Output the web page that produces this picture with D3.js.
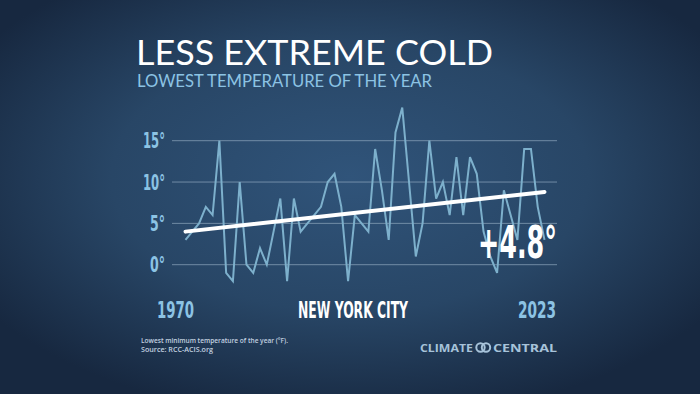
<!DOCTYPE html>
<html>
<head>
<meta charset="utf-8">
<script src="https://cdn.jsdelivr.net/npm/d3@7"></script>
<style>
  html, body { margin: 0; padding: 0; background: #1c2e46; }
  svg { display: block; }
</style>
</head>
<body>
<div id="chart"></div>
<script>
// lowest temperature of the year, New York City (°F)
var years = d3.range(1970, 2024);
var lowTemps = [3, 4, 5, 7, 6, 15, -1, -2, 10, 0,
                -1, 2, 0, 4, 8, -2, 8, 4, 5, 6,
                7, 10, 11, 7, -2, 6, 5, 4, 14, 9,
                3, 16, 19, 10, 1, 5, 15, 8, 10, 6,
                13, 6, 13, 11, 4, 1, -1, 9, 6, 3,
                14, 14, 7, 3];
var trendYears = [1970, 2023];
var trendValues = [4.0, 8.8];
var yTicks = [0, 5, 10, 15];
var endLabels = ["1970", "2023"];

function init(){
    var w = 700;
    var h = 394;

    var svg = d3.select("#chart")
                .append("svg")
                .attr("width", w)
                .attr("height", h);

    // background glow
    var defs = svg.append("defs");
    var grad = defs.append("radialGradient")
                   .attr("id", "bg")
                   .attr("cx", "50%").attr("cy", "45%")
                   .attr("r", "62%");
    grad.append("stop").attr("offset", "0%").attr("stop-color", "#30547a");
    grad.append("stop").attr("offset", "55%").attr("stop-color", "#284666");
    grad.append("stop").attr("offset", "100%").attr("stop-color", "#172840");
    svg.append("rect")
       .attr("width", w).attr("height", h)
       .attr("fill", "url(#bg)");

    var x = d3.scaleLinear()
              .domain([1970, 2023])
              .range([185.5, 544.5]);
    var y = d3.scaleLinear()
              .domain([0, 15])
              .range([264.7, 140.7]);

    var narrow = "'Liberation Sans Narrow', 'DejaVu Sans Condensed', 'Roboto Condensed', sans-serif";

    // titles
    svg.append("text")
       .attr("x", 136).attr("y", 65)
       .attr("fill", "#ffffff")
       .attr("font-family", "Lato, 'Open Sans', sans-serif")
       .attr("font-size", 34)
       .attr("textLength", 357)
       .attr("lengthAdjust", "spacingAndGlyphs")
       .text("LESS EXTREME COLD");
    svg.append("text")
       .attr("x", 137).attr("y", 87)
       .attr("fill", "#8cc3e4")
       .attr("font-family", "Lato, 'Open Sans', sans-serif")
       .attr("font-size", 16.5)
       .attr("textLength", 295)
       .attr("lengthAdjust", "spacingAndGlyphs")
       .text("LOWEST TEMPERATURE OF THE YEAR");

    // gridlines + y labels
    svg.selectAll("line.grid")
       .data(yTicks)
       .enter()
       .append("line")
       .attr("class", "grid")
       .attr("x1", 172).attr("x2", 557)
       .attr("y1", function(d){ return y(d); })
       .attr("y2", function(d){ return y(d); })
       .attr("stroke", "#8fa6bd")
       .attr("stroke-opacity", 0.7)
       .attr("stroke-width", 1);

    svg.selectAll("text.ytick")
       .data(yTicks)
       .enter()
       .append("text")
       .attr("class", "ytick")
       .attr("x", 165)
       .attr("y", function(d){ return y(d) + 7.5; })
       .attr("text-anchor", "end")
       .attr("fill", "#8cc3e4")
       .attr("font-family", narrow)
       .attr("font-weight", "bold")
       .attr("font-size", 21)
       .attr("textLength", function(d){ return d >= 10 ? 22 : 15; })
       .attr("lengthAdjust", "spacingAndGlyphs")
       .text(function(d){ return d + "°"; });

    // data line
    var line = d3.line()
                 .x(function(d, i){ return x(years[i]); })
                 .y(function(d){ return y(d); });
    svg.append("path")
       .datum(lowTemps)
       .attr("d", line)
       .attr("fill", "none")
       .attr("stroke", "#7db0cc")
       .attr("stroke-width", 2)
       .attr("stroke-linejoin", "miter");

    // trend line
    svg.append("line")
       .attr("x1", x(trendYears[0])).attr("y1", y(trendValues[0]))
       .attr("x2", x(trendYears[1])).attr("y2", y(trendValues[1]))
       .attr("stroke", "#ffffff")
       .attr("stroke-width", 4)
       .attr("stroke-linecap", "round");

    svg.append("text")
       .attr("x", 557).attr("y", 258)
       .attr("text-anchor", "end")
       .attr("fill", "#ffffff")
       .attr("font-family", narrow)
       .attr("font-weight", "bold")
       .attr("font-size", 44)
       .attr("textLength", 79)
       .attr("lengthAdjust", "spacingAndGlyphs")
       .text("+" + d3.format(".1f")(trendValues[1] - trendValues[0]) + "°");

    // bottom labels
    svg.append("text")
       .attr("x", 157).attr("y", 318)
       .attr("fill", "#8cc3e4")
       .attr("font-family", narrow).attr("font-weight", "bold")
       .attr("font-size", 23)
       .attr("textLength", 37).attr("lengthAdjust", "spacingAndGlyphs")
       .text(endLabels[0]);
    svg.append("text")
       .attr("x", 556).attr("y", 318)
       .attr("text-anchor", "end")
       .attr("fill", "#8cc3e4")
       .attr("font-family", narrow).attr("font-weight", "bold")
       .attr("font-size", 23)
       .attr("textLength", 38).attr("lengthAdjust", "spacingAndGlyphs")
       .text(endLabels[1]);
    svg.append("text")
       .attr("x", 298).attr("y", 318)
       .attr("fill", "#ffffff")
       .attr("font-family", narrow).attr("font-weight", "bold")
       .attr("font-size", 23)
       .attr("textLength", 110).attr("lengthAdjust", "spacingAndGlyphs")
       .text("NEW YORK CITY");

    // footnote
    var note = svg.append("text")
                  .attr("fill", "#c3d2e0")
                  .attr("font-family", "'Open Sans', sans-serif")
                  .attr("font-weight", 600)
                  .attr("font-size", 6.6);
    note.append("tspan").attr("x", 141).attr("y", 342.5)
        .attr("textLength", 147).attr("lengthAdjust", "spacingAndGlyphs")
        .text("Lowest minimum temperature of the year (°F).");
    note.append("tspan").attr("x", 141).attr("y", 351.5)
        .attr("textLength", 72).attr("lengthAdjust", "spacingAndGlyphs")
        .text("Source: RCC-ACIS.org");

    // logo
    var logo = svg.append("g").attr("fill", "#a7c3da");
    logo.append("text")
        .attr("x", 420).attr("y", 351.5)
        .attr("font-family", "'Open Sans', sans-serif").attr("font-weight", "bold")
        .attr("font-size", 10.5)
        .attr("textLength", 53).attr("lengthAdjust", "spacingAndGlyphs")
        .text("CLIMATE");
    logo.append("text")
        .attr("x", 493).attr("y", 351.5)
        .attr("font-family", "'Open Sans', sans-serif").attr("font-weight", "bold")
        .attr("font-size", 10.5)
        .attr("textLength", 64).attr("lengthAdjust", "spacingAndGlyphs")
        .text("CENTRAL");
    [480.5, 486].forEach(function(cx){
        logo.append("circle")
            .attr("cx", cx).attr("cy", 347.5).attr("r", 4.2)
            .attr("fill", "none")
            .attr("stroke", "#a7c3da")
            .attr("stroke-width", 2);
    });
}
window.onload = init;
</script>
</body>
</html>
